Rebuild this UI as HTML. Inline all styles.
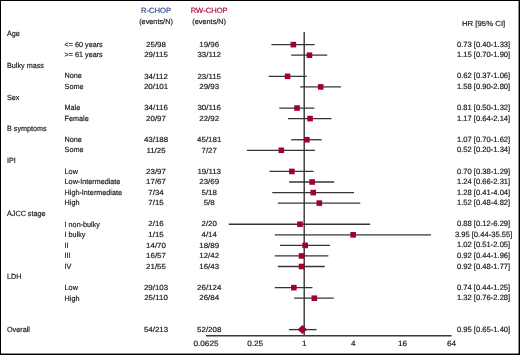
<!DOCTYPE html>
<html><head><meta charset="utf-8"><style>
html,body{margin:0;padding:0;background:#fff;}
body{width:520px;height:355px;overflow:hidden;position:relative;}
svg{position:absolute;left:0;top:0;}
text{font-family:"Liberation Sans",sans-serif;font-size:7.2px;text-rendering:geometricPrecision;}
</style></head><body>
<svg width="520" height="355" viewBox="0 0 520 355">
<defs><filter id="bl" x="0" y="0" width="100%" height="100%" filterUnits="userSpaceOnUse"><feConvolveMatrix order="3" kernelMatrix="0.0000 0.0000 0.0000 0.0000 1.0000 0.0000 0.0000 0.0000 0.0000" preserveAlpha="false"/></filter></defs>
<rect x="0" y="0" width="520" height="355" fill="#fff"/>
<g filter="url(#bl)">
<g stroke="#353535" stroke-width="1.3">
<line x1="271.40" y1="44.65" x2="314.65" y2="44.65"/>
<line x1="291.22" y1="55.21" x2="327.28" y2="55.21"/>
<line x1="268.64" y1="76.34" x2="306.61" y2="76.34"/>
<line x1="300.12" y1="86.91" x2="341.02" y2="86.91"/>
<line x1="279.30" y1="108.04" x2="314.38" y2="108.04"/>
<line x1="288.04" y1="118.60" x2="331.50" y2="118.60"/>
<line x1="291.22" y1="139.73" x2="321.64" y2="139.73"/>
<line x1="246.85" y1="150.30" x2="314.92" y2="150.30"/>
<line x1="269.58" y1="171.43" x2="313.57" y2="171.43"/>
<line x1="289.13" y1="181.99" x2="334.20" y2="181.99"/>
<line x1="272.27" y1="192.56" x2="354.00" y2="192.56"/>
<line x1="277.85" y1="203.12" x2="360.25" y2="203.12"/>
<line x1="228.75" y1="224.25" x2="370.15" y2="224.25"/>
<line x1="274.77" y1="234.82" x2="431.03" y2="234.82"/>
<line x1="280.00" y1="245.38" x2="329.97" y2="245.38"/>
<line x1="274.77" y1="255.95" x2="328.38" y2="255.95"/>
<line x1="277.85" y1="266.51" x2="324.77" y2="266.51"/>
<line x1="274.77" y1="287.64" x2="312.45" y2="287.64"/>
<line x1="294.13" y1="298.21" x2="333.74" y2="298.21"/>
<line x1="288.94" y1="329.61" x2="316.52" y2="329.61"/>
</g>
<line x1="304.20" y1="32" x2="304.20" y2="335.80" stroke="#303030" stroke-width="1.4"/>
<line x1="206.00" y1="335.80" x2="451.50" y2="335.80" stroke="#383838" stroke-width="1.4"/>
<g fill="#a3032c">
<rect x="290.55" y="41.85" width="5.6" height="5.6"/>
<rect x="306.65" y="52.41" width="5.6" height="5.6"/>
<rect x="284.77" y="73.55" width="5.6" height="5.6"/>
<rect x="317.90" y="84.11" width="5.6" height="5.6"/>
<rect x="294.24" y="105.24" width="5.6" height="5.6"/>
<rect x="307.26" y="115.80" width="5.6" height="5.6"/>
<rect x="304.10" y="136.93" width="5.6" height="5.6"/>
<rect x="278.54" y="147.50" width="5.6" height="5.6"/>
<rect x="289.07" y="168.63" width="5.6" height="5.6"/>
<rect x="309.32" y="179.19" width="5.6" height="5.6"/>
<rect x="310.44" y="189.76" width="5.6" height="5.6"/>
<rect x="316.53" y="200.32" width="5.6" height="5.6"/>
<rect x="297.17" y="221.45" width="5.6" height="5.6"/>
<rect x="350.35" y="232.02" width="5.6" height="5.6"/>
<rect x="302.40" y="242.58" width="5.6" height="5.6"/>
<rect x="298.75" y="253.15" width="5.6" height="5.6"/>
<rect x="298.75" y="263.71" width="5.6" height="5.6"/>
<rect x="291.04" y="284.84" width="5.6" height="5.6"/>
<rect x="311.53" y="295.41" width="5.6" height="5.6"/>
</g>
<polygon points="297.58,329.61 302.38,325.11 307.18,329.61 302.38,334.11" fill="#a3032c"/>
<g fill="#1e1e1e" stroke="#1e1e1e" stroke-width="0.2" stroke-linejoin="round">
<text x="156.00" y="13.10" text-anchor="middle" fill="#2b4a8a" stroke="#2b4a8a" style="font-size:7.6px">R-CHOP</text>
<text x="209.20" y="13.10" text-anchor="middle" fill="#a80c3a" stroke="#a80c3a" style="font-size:7.6px">RW-CHOP</text>
<text x="156.00" y="23.50" text-anchor="middle" style="font-size:7.3px">(events/N)</text>
<text x="209.20" y="23.50" text-anchor="middle" style="font-size:7.3px">(events/N)</text>
<text transform="translate(483.60 25.60) scale(1.07 1)" text-anchor="middle" style="font-size:7.3px">HR [95% CI]</text>
<text transform="translate(7.00 36.07) scale(0.962 1)" style="font-size:7.5px">Age</text>
<text transform="translate(64.60 46.65) scale(0.962 1)" style="font-size:7.5px">&lt;= 60 years</text>
<text transform="translate(156.00 46.85) scale(1.07 1)" text-anchor="middle" style="font-size:7.4px">25/98</text>
<text transform="translate(209.20 46.85) scale(1.07 1)" text-anchor="middle" style="font-size:7.4px">19/96</text>
<text x="483.60" y="46.75" text-anchor="middle" style="font-size:7.6px">0.73 [0.40-1.33]</text>
<text transform="translate(64.60 57.23) scale(0.962 1)" style="font-size:7.5px">&gt;= 61 years</text>
<text transform="translate(156.00 57.41) scale(1.07 1)" text-anchor="middle" style="font-size:7.4px">29/115</text>
<text transform="translate(209.20 57.41) scale(1.07 1)" text-anchor="middle" style="font-size:7.4px">33/112</text>
<text x="483.60" y="57.31" text-anchor="middle" style="font-size:7.6px">1.15 [0.70-1.90]</text>
<text transform="translate(7.00 67.81) scale(0.962 1)" style="font-size:7.5px">Bulky mass</text>
<text transform="translate(64.60 78.40) scale(0.962 1)" style="font-size:7.5px">None</text>
<text transform="translate(156.00 78.55) scale(1.07 1)" text-anchor="middle" style="font-size:7.4px">34/112</text>
<text transform="translate(209.20 78.55) scale(1.07 1)" text-anchor="middle" style="font-size:7.4px">23/115</text>
<text x="483.60" y="78.45" text-anchor="middle" style="font-size:7.6px">0.62 [0.37-1.06]</text>
<text transform="translate(64.60 88.98) scale(0.962 1)" style="font-size:7.5px">Some</text>
<text transform="translate(156.00 89.11) scale(1.07 1)" text-anchor="middle" style="font-size:7.4px">20/101</text>
<text transform="translate(209.20 89.11) scale(1.07 1)" text-anchor="middle" style="font-size:7.4px">29/93</text>
<text x="483.60" y="89.01" text-anchor="middle" style="font-size:7.6px">1.58 [0.90-2.80]</text>
<text transform="translate(7.00 99.56) scale(0.962 1)" style="font-size:7.5px">Sex</text>
<text transform="translate(64.60 110.14) scale(0.962 1)" style="font-size:7.5px">Male</text>
<text transform="translate(156.00 110.24) scale(1.07 1)" text-anchor="middle" style="font-size:7.4px">34/116</text>
<text transform="translate(209.20 110.24) scale(1.07 1)" text-anchor="middle" style="font-size:7.4px">30/116</text>
<text x="483.60" y="110.14" text-anchor="middle" style="font-size:7.6px">0.81 [0.50-1.32]</text>
<text transform="translate(64.60 120.72) scale(0.962 1)" style="font-size:7.5px">Female</text>
<text transform="translate(156.00 120.80) scale(1.07 1)" text-anchor="middle" style="font-size:7.4px">20/97</text>
<text transform="translate(209.20 120.80) scale(1.07 1)" text-anchor="middle" style="font-size:7.4px">22/92</text>
<text x="483.60" y="120.70" text-anchor="middle" style="font-size:7.6px">1.17 [0.64-2.14]</text>
<text transform="translate(7.00 131.31) scale(0.962 1)" style="font-size:7.5px">B symptoms</text>
<text transform="translate(64.60 141.89) scale(0.962 1)" style="font-size:7.5px">None</text>
<text transform="translate(156.00 141.94) scale(1.07 1)" text-anchor="middle" style="font-size:7.4px">43/188</text>
<text transform="translate(209.20 141.94) scale(1.07 1)" text-anchor="middle" style="font-size:7.4px">45/181</text>
<text x="483.60" y="141.83" text-anchor="middle" style="font-size:7.6px">1.07 [0.70-1.62]</text>
<text transform="translate(64.60 152.47) scale(0.962 1)" style="font-size:7.5px">Some</text>
<text transform="translate(156.00 152.50) scale(1.07 1)" text-anchor="middle" style="font-size:7.4px">11/25</text>
<text transform="translate(209.20 152.50) scale(1.07 1)" text-anchor="middle" style="font-size:7.4px">7/27</text>
<text x="483.60" y="152.40" text-anchor="middle" style="font-size:7.6px">0.52 [0.20-1.34]</text>
<text transform="translate(7.00 163.05) scale(0.962 1)" style="font-size:7.5px">IPI</text>
<text transform="translate(64.60 173.63) scale(0.962 1)" style="font-size:7.5px">Low</text>
<text transform="translate(156.00 173.63) scale(1.07 1)" text-anchor="middle" style="font-size:7.4px">23/97</text>
<text transform="translate(209.20 173.63) scale(1.07 1)" text-anchor="middle" style="font-size:7.4px">19/113</text>
<text x="483.60" y="173.53" text-anchor="middle" style="font-size:7.6px">0.70 [0.38-1.29]</text>
<text transform="translate(64.60 184.22) scale(0.962 1)" style="font-size:7.5px">Low-Intermediate</text>
<text transform="translate(156.00 184.19) scale(1.07 1)" text-anchor="middle" style="font-size:7.4px">17/67</text>
<text transform="translate(209.20 184.19) scale(1.07 1)" text-anchor="middle" style="font-size:7.4px">23/69</text>
<text x="483.60" y="184.09" text-anchor="middle" style="font-size:7.6px">1.24 [0.66-2.31]</text>
<text transform="translate(64.60 194.80) scale(0.962 1)" style="font-size:7.5px">High-Intermediate</text>
<text transform="translate(156.00 194.76) scale(1.07 1)" text-anchor="middle" style="font-size:7.4px">7/34</text>
<text transform="translate(209.20 194.76) scale(1.07 1)" text-anchor="middle" style="font-size:7.4px">5/18</text>
<text x="483.60" y="194.66" text-anchor="middle" style="font-size:7.6px">1.28 [0.41-4.04]</text>
<text transform="translate(64.60 205.38) scale(0.962 1)" style="font-size:7.5px">High</text>
<text transform="translate(156.00 205.32) scale(1.07 1)" text-anchor="middle" style="font-size:7.4px">7/15</text>
<text transform="translate(209.20 205.32) scale(1.07 1)" text-anchor="middle" style="font-size:7.4px">5/8</text>
<text x="483.60" y="205.22" text-anchor="middle" style="font-size:7.6px">1.52 [0.48-4.82]</text>
<text transform="translate(7.00 215.96) scale(0.962 1)" style="font-size:7.5px">AJCC stage</text>
<text transform="translate(64.60 226.54) scale(0.962 1)" style="font-size:7.5px">I non-bulky</text>
<text transform="translate(156.00 226.45) scale(1.07 1)" text-anchor="middle" style="font-size:7.4px">2/16</text>
<text transform="translate(209.20 226.45) scale(1.07 1)" text-anchor="middle" style="font-size:7.4px">2/20</text>
<text x="483.60" y="226.35" text-anchor="middle" style="font-size:7.6px">0.88 [0.12-6.29]</text>
<text transform="translate(64.60 237.13) scale(0.962 1)" style="font-size:7.5px">I bulky</text>
<text transform="translate(156.00 237.02) scale(1.07 1)" text-anchor="middle" style="font-size:7.4px">1/15</text>
<text transform="translate(209.20 237.02) scale(1.07 1)" text-anchor="middle" style="font-size:7.4px">4/14</text>
<text x="483.60" y="236.92" text-anchor="middle" style="font-size:7.6px">3.95 [0.44-35.55]</text>
<text transform="translate(64.60 247.71) scale(0.962 1)" style="font-size:7.5px">II</text>
<text transform="translate(156.00 247.58) scale(1.07 1)" text-anchor="middle" style="font-size:7.4px">14/70</text>
<text transform="translate(209.20 247.58) scale(1.07 1)" text-anchor="middle" style="font-size:7.4px">18/89</text>
<text x="483.60" y="247.48" text-anchor="middle" style="font-size:7.6px">1.02 [0.51-2.05]</text>
<text transform="translate(64.60 258.29) scale(0.962 1)" style="font-size:7.5px">III</text>
<text transform="translate(156.00 258.15) scale(1.07 1)" text-anchor="middle" style="font-size:7.4px">16/57</text>
<text transform="translate(209.20 258.15) scale(1.07 1)" text-anchor="middle" style="font-size:7.4px">12/42</text>
<text x="483.60" y="258.05" text-anchor="middle" style="font-size:7.6px">0.92 [0.44-1.96]</text>
<text transform="translate(64.60 268.87) scale(0.962 1)" style="font-size:7.5px">IV</text>
<text transform="translate(156.00 268.71) scale(1.07 1)" text-anchor="middle" style="font-size:7.4px">21/55</text>
<text transform="translate(209.20 268.71) scale(1.07 1)" text-anchor="middle" style="font-size:7.4px">16/43</text>
<text x="483.60" y="268.61" text-anchor="middle" style="font-size:7.6px">0.92 [0.48-1.77]</text>
<text transform="translate(7.00 279.45) scale(0.962 1)" style="font-size:7.5px">LDH</text>
<text transform="translate(64.60 290.04) scale(0.962 1)" style="font-size:7.5px">Low</text>
<text transform="translate(156.00 289.84) scale(1.07 1)" text-anchor="middle" style="font-size:7.4px">29/103</text>
<text transform="translate(209.20 289.84) scale(1.07 1)" text-anchor="middle" style="font-size:7.4px">26/124</text>
<text x="483.60" y="289.74" text-anchor="middle" style="font-size:7.6px">0.74 [0.44-1.25]</text>
<text transform="translate(64.60 300.62) scale(0.962 1)" style="font-size:7.5px">High</text>
<text transform="translate(156.00 300.41) scale(1.07 1)" text-anchor="middle" style="font-size:7.4px">25/110</text>
<text transform="translate(209.20 300.41) scale(1.07 1)" text-anchor="middle" style="font-size:7.4px">26/84</text>
<text x="483.60" y="300.31" text-anchor="middle" style="font-size:7.6px">1.32 [0.76-2.28]</text>
<text transform="translate(7.00 332.36) scale(0.962 1)" style="font-size:7.5px">Overall</text>
<text transform="translate(156.00 332.11) scale(1.07 1)" text-anchor="middle" style="font-size:7.4px">54/213</text>
<text transform="translate(209.20 332.11) scale(1.07 1)" text-anchor="middle" style="font-size:7.4px">52/208</text>
<text x="483.60" y="332.00" text-anchor="middle" style="font-size:7.6px">0.95 [0.65-1.40]</text>
<text transform="translate(206.00 345.80) scale(1.07 1)" text-anchor="middle" style="font-size:7.6px">0.0625</text>
<text transform="translate(255.10 345.80) scale(1.07 1)" text-anchor="middle" style="font-size:7.6px">0.25</text>
<text transform="translate(304.20 345.80) scale(1.07 1)" text-anchor="middle" style="font-size:7.6px">1</text>
<text transform="translate(353.30 345.80) scale(1.07 1)" text-anchor="middle" style="font-size:7.6px">4</text>
<text transform="translate(402.40 345.80) scale(1.07 1)" text-anchor="middle" style="font-size:7.6px">16</text>
<text transform="translate(451.50 345.80) scale(1.07 1)" text-anchor="middle" style="font-size:7.6px">64</text>
</g>
</g>
<rect x="0" y="0" width="520" height="1" fill="#000"/>
<rect x="0" y="0" width="1" height="355" fill="#000"/>
<rect x="518.55" y="0" width="1.45" height="355" fill="#000"/>
<rect x="0" y="353.55" width="520" height="1.45" fill="#000"/>
</svg>
</body></html>
